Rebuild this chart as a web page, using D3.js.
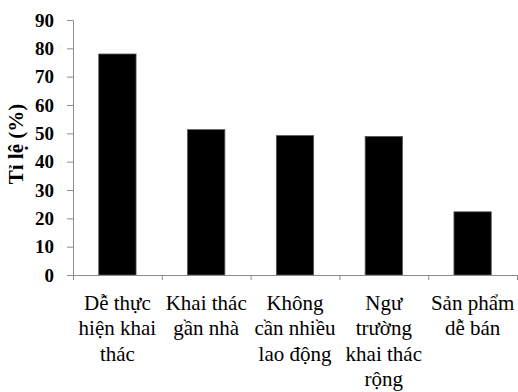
<!DOCTYPE html>
<html>
<head>
<meta charset="utf-8">
<script src="https://cdn.jsdelivr.net/npm/d3@7"></script>
<style>
  body { margin: 0; background: #fff; }
  .axis path, .axis line { stroke: #8c8c8c; }
</style>
</head>
<body>
<div id="chart"></div>
<script>
// data
const categories = ['Dễ thực hiện khai thác', 'Khai thác gần nhà', 'Không cần nhiều lao động', 'Ngư trường khai thác rộng', 'Sản phẩm dễ bán'];
const labelLines = [
  ['Dễ thực', 'hiện khai', 'thác'],
  ['Khai thác', 'gần nhà'],
  ['Không', 'cần nhiều', 'lao động'],
  ['Ngư', 'trường', 'khai thác', 'rộng'],
  ['Sản phẩm', 'dễ bán']
];
const values = [78, 51.3, 49.2, 48.9, 22.3];
const yTicks = [0, 10, 20, 30, 40, 50, 60, 70, 80, 90];
const yTitle = 'Tỉ lệ (%)';

const FONT = '"Liberation Serif", Tinos, "Times New Roman", serif';

const cw = 518, ch = 392;
const margin = { top: 20, right: 1, bottom: 117, left: 73 };
const w = cw - margin.left - margin.right;
const h = ch - margin.top - margin.bottom;

const svg = d3.select('#chart').append('svg')
  .attr('width', cw).attr('height', ch)
  .append('g')
  .attr('transform', `translate(${margin.left},${margin.top})`);

const x = d3.scaleBand()
  .domain(categories)
  .range([0, w])
  .paddingInner(0.58)
  .paddingOuter(0.29);

// boundary ticks between categories
const xEdge = d3.scaleLinear().domain([0, categories.length]).range([0, w]);

const y = d3.scaleLinear().domain([0, 90]).range([h, 0]);

// Bars
svg.selectAll('rect.bar')
  .data(values)
  .join('rect')
  .attr('class', 'bar')
  .attr('x', (d, i) => x(categories[i]))
  .attr('y', d => y(d))
  .attr('width', x.bandwidth())
  .attr('height', d => h - y(d))
  .attr('fill', '#000')
  .attr('stroke', '#555')
  .attr('stroke-width', 0.8);

// Y axis
const yAxis = svg.append('g')
  .attr('class', 'axis')
  .call(d3.axisLeft(y).tickValues(yTicks).tickSize(6).tickPadding(13).tickSizeOuter(0));
yAxis.selectAll('text')
  .style('font-family', FONT)
  .style('font-size', '19px')
  .style('font-weight', 'bold')
  .attr('fill', '#000');

// X axis
svg.append('g')
  .attr('class', 'axis')
  .attr('transform', `translate(0,${h})`)
  .call(d3.axisBottom(xEdge).tickValues(d3.range(categories.length + 1)).tickSize(5).tickSizeOuter(0).tickFormat(''));

// Category labels
const lab = svg.append('g').attr('transform', `translate(0,${h})`);
categories.forEach((c, i) => {
  const t = lab.append('text')
    .attr('x', x(c) + x.bandwidth() / 2)
    .attr('y', 35)
    .attr('text-anchor', 'middle')
    .style('font-family', FONT)
    .style('font-size', '21px');
  labelLines[i].forEach((ln, j) => {
    t.append('tspan')
      .attr('x', x(c) + x.bandwidth() / 2)
      .attr('y', 35 + j * 25.3)
      .text(ln);
  });
});

// Y title
svg.append('text')
  .attr('transform', `translate(${-50},${h / 2 - 3.5}) rotate(-90)`)
  .attr('text-anchor', 'middle')
  .style('font-family', FONT)
  .style('font-size', '21px')
  .style('font-weight', 'bold')
  .text(yTitle);
</script>
</body>
</html>
